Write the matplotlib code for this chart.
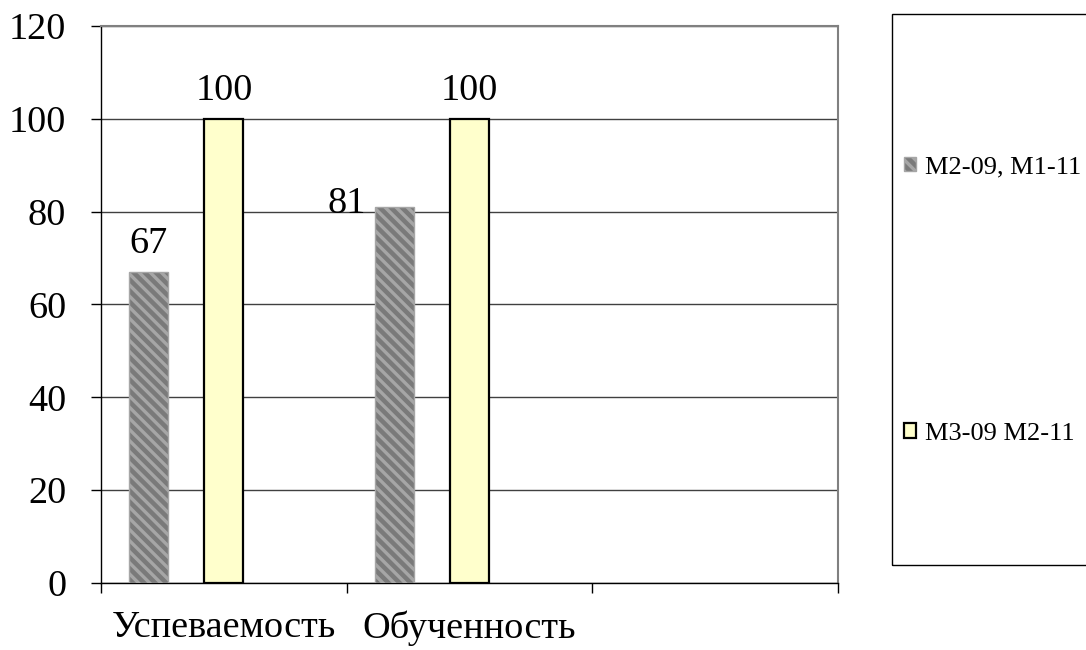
import numpy as np
import matplotlib.pyplot as plt
from matplotlib.patches import Rectangle

plt.rcParams['font.family'] = ['Liberation Serif', 'DejaVu Serif']
plt.rcParams['hatch.linewidth'] = 2.4
plt.rcParams['hatch.color'] = 'black'

# data
categories = ['Успеваемость', 'Обученность', '']
series_names = ['M2-09, M1-11', 'M3-09 M2-11']
s1 = [67, 81, np.nan]
s2 = [100, 100, np.nan]
y_ticks = [0, 20, 40, 60, 80, 100, 120]

fig = plt.figure(figsize=(10.86, 6.5), dpi=100)
ax = fig.add_axes([0.0930, 0.1031, 0.6786, 0.8569])

x = np.arange(len(categories)) + 0.5
w = 0.159
b1 = ax.bar(x - 0.307, s1, w, color='#7a7a7a', edgecolor='#a6a6a6',
            hatch='\\\\\\', linewidth=1.0, label=series_names[0], zorder=3)
b2 = ax.bar(x, s2, w, color='#ffffcc', edgecolor='black',
            linewidth=1.6, label=series_names[1], zorder=3)

fs = 27.5

# data labels
for i, v in enumerate(s1):
    if np.isnan(v):
        continue
    if i == 1:
        ax.annotate(f'{v:g}', (x[i] - 0.307, v), xytext=(-34, 2),
                    textcoords='offset points', ha='center', va='center',
                    fontsize=fs)
    else:
        ax.annotate(f'{v:g}', (x[i] - 0.307, v), xytext=(0, 8),
                    textcoords='offset points', ha='center', va='bottom',
                    fontsize=fs)
for i, v in enumerate(s2):
    if np.isnan(v):
        continue
    ax.annotate(f'{v:g}', (x[i], v), xytext=(0, 8),
                textcoords='offset points', ha='center', va='bottom',
                fontsize=fs)

ax.set_xlim(0, 3)
ax.set_ylim(0, 120)
ax.set_yticks(y_ticks)
ax.set_yticklabels([str(t) for t in y_ticks], fontsize=fs)
ax.tick_params(axis='y', direction='out', length=7, width=1, pad=18)

ax.set_xticks([0, 1, 2, 3])
ax.set_xticklabels([])
ax.set_xticks(x, minor=True)
ax.set_xticklabels(categories, minor=True, fontsize=fs)
ax.tick_params(axis='x', which='major', direction='out', length=7, width=1)
ax.tick_params(axis='x', which='minor', length=0, pad=20)

ax.yaxis.grid(True, color='#404040', linewidth=1.0, zorder=0)
ax.set_axisbelow(True)

for s in ['left', 'bottom']:
    ax.spines[s].set_color('black')
    ax.spines[s].set_linewidth(1.0)
for s in ['top', 'right']:
    ax.spines[s].set_color('#808080')
    ax.spines[s].set_linewidth(1.5)

# legend box
fig.patches.append(Rectangle((892 / 1086, 1 - 565 / 650), (1100 - 892) / 1086,
                             (565 - 14) / 650, transform=fig.transFigure,
                             fill=False, edgecolor='black', linewidth=1.0))
fig.legend(handles=[b1, b2], loc='upper left',
           bbox_to_anchor=(904 / 1086, 1 - 156 / 650), frameon=False,
           fontsize=19, handlelength=0.45, handleheight=0.45,
           handletextpad=0.35, labelspacing=9.28, borderpad=0,
           borderaxespad=0)

fig.savefig('out.png', dpi=100)
